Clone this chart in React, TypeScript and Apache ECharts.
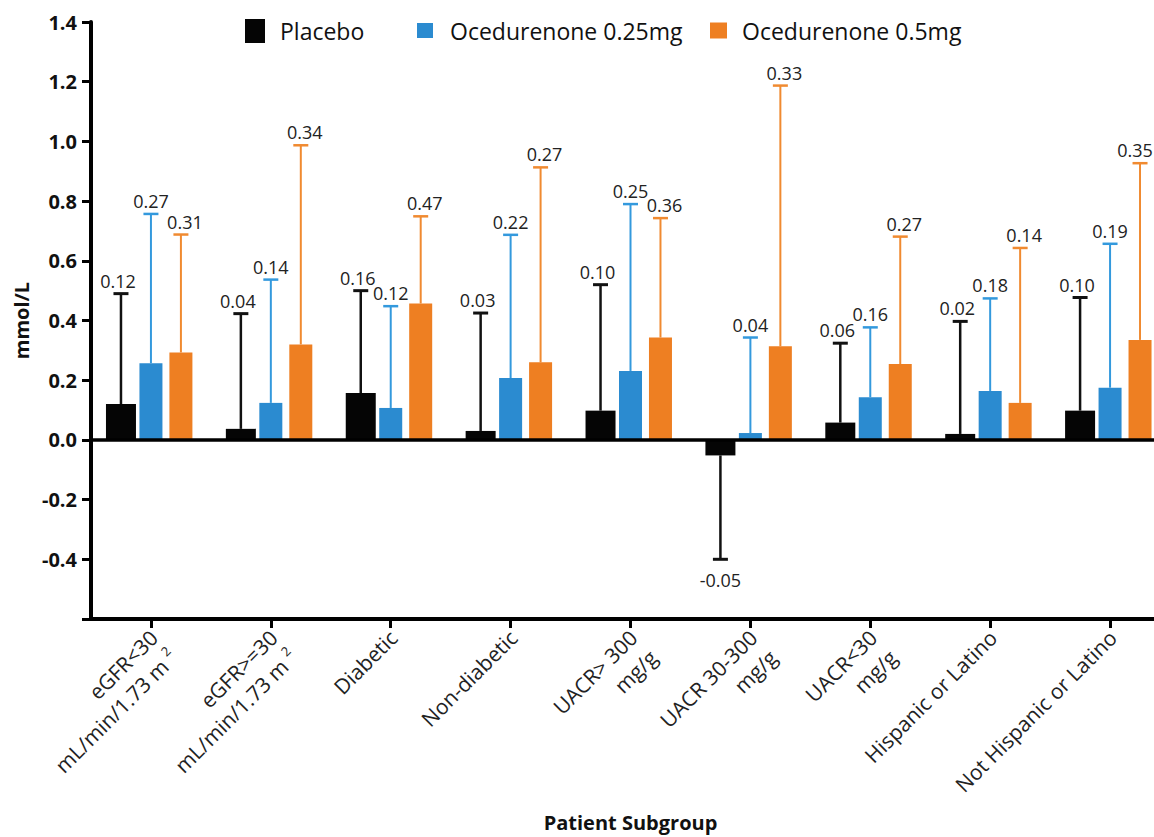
import React, { useEffect, useRef } from "react";
import * as echarts from "echarts";

const categories = [
  "eGFR<30\nmL/min/1.73 m²",
  "eGFR>=30\nmL/min/1.73 m²",
  "Diabetic",
  "Non-diabetic",
  "UACR> 300\nmg/g",
  "UACR 30-300\nmg/g",
  "UACR<30\nmg/g",
  "Hispanic or Latino",
  "Not Hispanic or Latino",
];

const seriesNames = ["Placebo", "Ocedurenone 0.25mg", "Ocedurenone 0.5mg"];

// bar heights (mean change, mmol/L)
const placeboMean = [0.12, 0.037, 0.157, 0.03, 0.098, -0.052, 0.058, 0.02, 0.098];
const lowMean = [0.257, 0.124, 0.107, 0.207, 0.231, 0.023, 0.143, 0.164, 0.175];
const highMean = [0.293, 0.32, 0.457, 0.26, 0.343, 0.314, 0.254, 0.124, 0.335];

// error bar ends
const placeboErr = [0.49, 0.423, 0.5, 0.425, 0.52, -0.4, 0.324, 0.397, 0.477];
const lowErr = [0.757, 0.537, 0.448, 0.687, 0.79, 0.343, 0.377, 0.474, 0.657];
const highErr = [0.688, 0.987, 0.749, 0.913, 0.743, 1.187, 0.681, 0.643, 0.927];

// printed value labels
const placeboLabels = ["0.12", "0.04", "0.16", "0.03", "0.10", "-0.05", "0.06", "0.02", "0.10"];
const lowLabels = ["0.27", "0.14", "0.12", "0.22", "0.25", "0.04", "0.16", "0.18", "0.19"];
const highLabels = ["0.31", "0.34", "0.47", "0.27", "0.36", "0.33", "0.27", "0.14", "0.35"];

const FONT = "'Open Sans', 'DejaVu Sans', sans-serif";
const barColors = ["#050505", "#2b8bd0", "#ee7f22"];
const errColors = ["#111111", "#3399dd", "#f08a30"];
const barWidths = [30, 23, 23];
const offsetFrac = [-0.25, 0, 0.25];
const errWidths = [2.5, 2, 2];
const labelShift = [-3, 0, 4];

const VIEW_W = 1154;
const CHART_W = 1170;
const CHART_H = 837;

function makeSeries(gi: number, means: number[], errs: number[], labels: string[]) {
  return {
    type: "custom",
    name: seriesNames[gi],
    itemStyle: { color: barColors[gi] },
    data: categories.map((_, i) => [i, means[i], errs[i]]),
    renderItem: (params: any, api: any) => {
      const idx = api.value(0);
      const v = api.value(1);
      const e = api.value(2);
      const band = api.size([1, 0])[0];
      const base = api.coord([idx, 0]);
      const top = api.coord([idx, v]);
      const ep = api.coord([idx, e]);
      const cx = base[0] + band * offsetFrac[gi];
      const w = barWidths[gi];
      const y0 = Math.min(base[1], top[1]);
      const h = Math.abs(base[1] - top[1]);
      const neg = v < 0;
      const capHalf = 7.5;
      const lx = Math.min(cx + (neg ? 0 : labelShift[gi]), VIEW_W - 19);
      return {
        type: "group",
        children: [
          {
            type: "line",
            shape: { x1: cx, y1: top[1], x2: cx, y2: ep[1] },
            style: { stroke: errColors[gi], lineWidth: errWidths[gi] },
          },
          {
            type: "line",
            shape: { x1: cx - capHalf, y1: ep[1], x2: cx + capHalf, y2: ep[1] },
            style: { stroke: errColors[gi], lineWidth: errWidths[gi] + 0.5 },
          },
          {
            type: "rect",
            shape: { x: cx - w / 2, y: y0, width: w, height: h },
            style: { fill: barColors[gi] },
          },
          {
            type: "text",
            x: lx,
            y: neg ? ep[1] + 12 : ep[1] - 4,
            style: {
              text: labels[params.dataIndex],
              align: "center",
              verticalAlign: neg ? "top" : "bottom",
              font: `18px ${FONT}`,
              fill: "#222",
            },
          },
        ],
      };
    },
  };
}

export default function App() {
  const ref = useRef<HTMLDivElement>(null);
  useEffect(() => {
    if (!ref.current) return;
    const chart = echarts.init(ref.current, undefined, {
      renderer: "svg",
      width: CHART_W,
      height: CHART_H,
    });
    const legendBase = {
      padding: 0,
      icon: "rect",
      top: 19,
      textStyle: { fontSize: 23, fontFamily: FONT, color: "#111" },
    };
    chart.setOption({
      animation: false,
      backgroundColor: "#fff",
      grid: { left: 91, right: 0, top: 22, bottom: 209, containLabel: false },
      legend: [
        {
          ...legendBase,
          data: [seriesNames[0]],
          left: 245,
          itemWidth: 20,
          itemHeight: 24,
          textStyle: { ...legendBase.textStyle, padding: [0, 0, 0, 10] },
        },
        {
          ...legendBase,
          data: [seriesNames[1]],
          left: 417,
          itemWidth: 16,
          itemHeight: 15,
          textStyle: { ...legendBase.textStyle, padding: [0, 0, 0, 12] },
        },
        {
          ...legendBase,
          data: [seriesNames[2]],
          left: 710,
          itemWidth: 17,
          itemHeight: 16,
          textStyle: { ...legendBase.textStyle, padding: [0, 0, 0, 10] },
        },
      ],
      xAxis: {
        type: "category",
        data: categories,
        name: "Patient Subgroup",
        nameLocation: "middle",
        nameGap: 193,
        nameTextStyle: {
          fontSize: 20,
          fontWeight: "bold",
          fontFamily: FONT,
          color: "#111",
          verticalAlign: "top",
        },
        axisLine: { onZero: false, lineStyle: { color: "#000", width: 4 } },
        axisTick: { show: true, alignWithLabel: true, length: 9, lineStyle: { color: "#000", width: 3 } },
        axisLabel: {
          interval: 0,
          rotate: 45,
          margin: -2,
          verticalAlign: "top",
          padding: [0, 10, 0, 0],
          fontSize: 21,
          fontFamily: FONT,
          color: "#222",
          lineHeight: 28,
          formatter: (v: string) => v.replace("²", " {sup|2}"),
          rich: {
            sup: { fontSize: 13, fontFamily: FONT, color: "#222", verticalAlign: "top", lineHeight: 28 },
          },
        },
        splitLine: { show: false },
      },
      yAxis: {
        type: "value",
        min: -0.6,
        max: 1.4,
        interval: 0.2,
        name: "mmol/L",
        nameLocation: "middle",
        nameGap: 59,
        nameTextStyle: { fontSize: 20, fontWeight: "bold", fontFamily: FONT, color: "#111" },
        axisLine: { show: true, lineStyle: { color: "#000", width: 4 } },
        axisTick: { show: true, length: 9, lineStyle: { color: "#000", width: 3 } },
        splitLine: { show: false },
        axisLabel: {
          margin: 14,
          fontSize: 20,
          fontWeight: "bold",
          fontFamily: FONT,
          color: "#111",
          formatter: (v: number) => (Math.abs(v + 0.6) < 1e-6 ? "" : v.toFixed(1)),
        },
      },
      series: [
        {
          ...makeSeries(0, placeboMean, placeboErr, placeboLabels),
          markLine: {
            silent: true,
            symbol: "none",
            label: { show: false },
            lineStyle: { color: "#000", width: 3.5, type: "solid" },
            data: [{ yAxis: 0 }],
          },
        },
        makeSeries(1, lowMean, lowErr, lowLabels),
        makeSeries(2, highMean, highErr, highLabels),
      ],
    });
    return () => chart.dispose();
  }, []);
  return (
    <div style={{ position: "fixed", left: 0, top: 0, width: VIEW_W, height: CHART_H, overflow: "hidden", background: "#fff" }}>
      <div ref={ref} style={{ width: CHART_W, height: CHART_H }} />
    </div>
  );
}
